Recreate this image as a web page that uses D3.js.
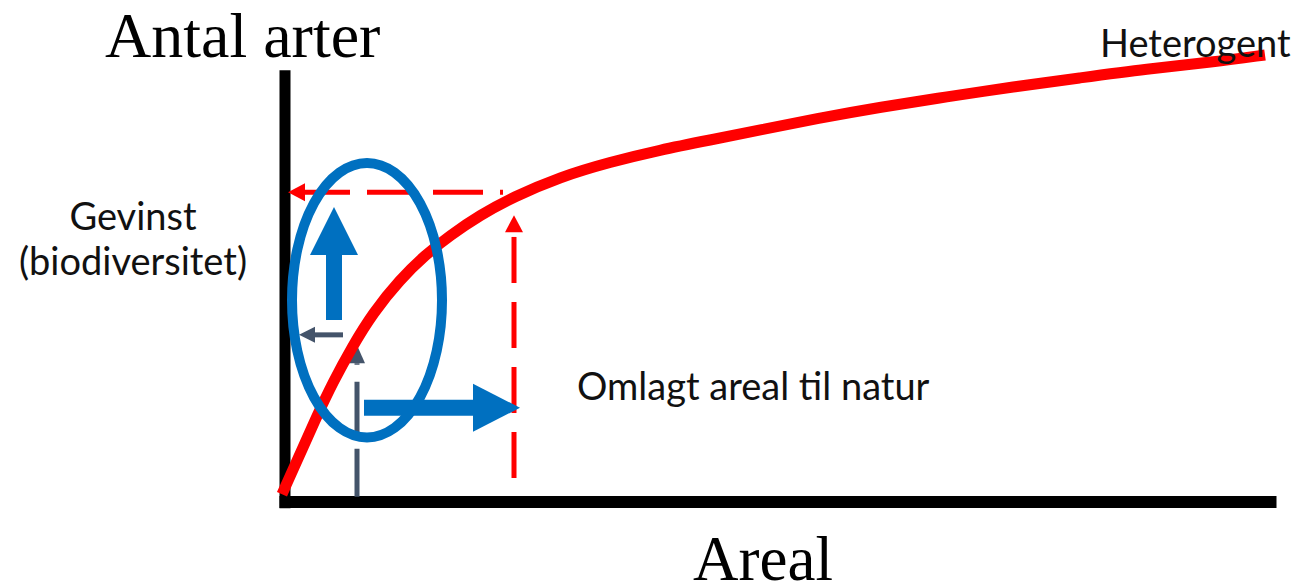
<!DOCTYPE html>
<html>
<head>
<meta charset="utf-8">
<script src="https://cdn.jsdelivr.net/npm/d3@7"></script>
<style>
  html, body { margin: 0; padding: 0; background: #fff; }
  svg { display: block; }
</style>
</head>
<body>
<div id="chart"></div>
<script>
// ---- data (x: Areal 0-100, y: Antal arter 0-100) ----
const curveX = [0.2, 2.4, 3.7, 5.3, 7.2, 9.3, 12.0, 14.5, 17.0, 20.0, 23.3, 28.0, 33.0, 38.0, 43.0, 48.0, 54.0, 60.0, 66.7, 73.3, 80.0, 86.7, 93.3, 98.5];
const curveY = [1.3, 12.2, 18.7, 26.2, 34.0, 41.6, 49.0, 54.4, 58.8, 63.3, 67.3, 71.8, 75.1, 77.8, 80.0, 82.2, 84.9, 87.3, 89.6, 91.8, 93.8, 95.8, 97.3, 98.9];

const convertedArea = 23.4;   // red vertical dashed (omlagt areal)
const gainLevel = 68.4;       // red horizontal dashed (gevinst)
const smallArea = 7.7;        // grey dashed vertical
const smallGain = 36.7;       // grey horizontal arrow level

const titleY = "Antal arter";
const titleX = "Areal";
const curveLabel = "Heterogent";
const gainLabel = ["Gevinst", "(biodiversitet)"];
const areaLabel = "Omlagt areal til natur";

// ---- setup ----
const W = 1297, H = 587;
const svg = d3.select("#chart").append("svg").attr("width", W).attr("height", H);

const x = d3.scaleLinear().domain([0, 100]).range([280, 1280]);
const y = d3.scaleLinear().domain([0, 100]).range([500, 50]);

const red = "#FF0000", blue = "#0070C0", grey = "#44546A";

// ---- axes (thick black lines, no ticks) ----
const xAxisScale = d3.scaleLinear().domain([-0.1, 99.6]).range([x(-0.1), x(99.6)]);
svg.append("g")
  .attr("transform", `translate(0,${y(-0.33)})`)
  .call(d3.axisBottom(xAxisScale).tickValues([]).tickSizeOuter(0))
  .call(g => g.select(".domain").attr("stroke", "#000").attr("stroke-width", 12));

const yAxisScale = d3.scaleLinear().domain([-1.7, 95.6]).range([y(-1.7), y(95.6)]);
svg.append("g")
  .attr("transform", `translate(${x(0.45)},0)`)
  .call(d3.axisLeft(yAxisScale).tickValues([]).tickSizeOuter(0))
  .call(g => g.select(".domain").attr("stroke", "#000").attr("stroke-width", 11));

// helper: arrowhead polygon
function head(tipX, tipY, dir, len, half) {
  if (dir === "left") return [[tipX, tipY], [tipX + len, tipY - half], [tipX + len, tipY + half]];
  if (dir === "right") return [[tipX, tipY], [tipX - len, tipY - half], [tipX - len, tipY + half]];
  return [[tipX, tipY], [tipX - half, tipY + len], [tipX + half, tipY + len]];
}
const poly = pts => "M" + pts.map(p => p.join(",")).join("L") + "Z";

// ---- red dashed horizontal (gain level) ----
const gY = y(gainLevel);
svg.append("line")
  .attr("x1", x(22.3)).attr("x2", x(2.5))
  .attr("y1", gY).attr("y2", gY)
  .attr("stroke", red).attr("stroke-width", 5)
  .attr("stroke-dasharray", "3,17,50,16,50,17,45,50");
svg.append("path").attr("d", poly(head(x(0.8), gY, "left", 17, 9))).attr("fill", red);

// ---- red dashed vertical (converted area) ----
const cX = x(convertedArea);
svg.append("line")
  .attr("x1", cX).attr("x2", cX)
  .attr("y1", y(4.9)).attr("y2", y(59.8))
  .attr("stroke", red).attr("stroke-width", 5)
  .attr("stroke-dasharray", "46,19");
svg.append("path").attr("d", poly(head(cX, y(63.3), "up", 17, 9))).attr("fill", red);

// ---- grey dashed vertical ----
const sX = x(smallArea);
svg.append("line")
  .attr("x1", sX).attr("x2", sX)
  .attr("y1", y(0.7)).attr("y2", y(30.4))
  .attr("stroke", grey).attr("stroke-width", 5)
  .attr("stroke-dasharray", "48,10,57,17");
svg.append("path").attr("d", poly(head(sX, y(34.4), "up", 18, 8))).attr("fill", grey);

// ---- grey horizontal arrow ----
const sY = y(smallGain);
svg.append("line")
  .attr("x1", x(6.3)).attr("x2", x(3.3))
  .attr("y1", sY).attr("y2", sY)
  .attr("stroke", grey).attr("stroke-width", 5);
svg.append("path").attr("d", poly(head(x(1.9), sY, "left", 16, 8))).attr("fill", grey);

// ---- red curve ----
const pts = curveX.map((d, i) => [d, curveY[i]]);
svg.append("path")
  .datum(pts)
  .attr("d", d3.line().x(d => x(d[0])).y(d => y(d[1])).curve(d3.curveBasis))
  .attr("fill", "none").attr("stroke", red).attr("stroke-width", 11);

// ---- blue ellipse ----
svg.append("ellipse")
  .attr("cx", x(8.7)).attr("cy", y(44.4))
  .attr("rx", x(8.7) - x(1.2)).attr("ry", y(13.9) - y(44.4))
  .attr("fill", "none").attr("stroke", blue).attr("stroke-width", 10);

// ---- blue up arrow ----
const uX = x(5.4);
svg.append("line")
  .attr("x1", uX).attr("x2", uX)
  .attr("y1", y(40)).attr("y2", y(54.6))
  .attr("stroke", blue).attr("stroke-width", 16);
svg.append("path").attr("d", poly(head(uX, y(65.1), "up", 48, 24))).attr("fill", blue);

// ---- blue right arrow ----
const rY = y(20.5);
svg.append("line")
  .attr("x1", x(8.4)).attr("x2", x(19.5))
  .attr("y1", rY).attr("y2", rY)
  .attr("stroke", blue).attr("stroke-width", 16);
svg.append("path").attr("d", poly(head(x(24.0), rY, "right", 47, 24))).attr("fill", blue);

// ---- texts ----
svg.append("text").text(titleY)
  .attr("x", 105).attr("y", 57)
  .attr("font-family", "'Liberation Serif', 'Times New Roman', serif")
  .attr("font-size", 64).attr("fill", "#000");

svg.append("text").text(titleX)
  .attr("x", 693).attr("y", 580)
  .attr("font-family", "'Liberation Serif', 'Times New Roman', serif")
  .attr("font-size", 63).attr("fill", "#000");

const sans = "Lato, 'Open Sans', sans-serif";
svg.append("text").text(curveLabel)
  .attr("x", 1100).attr("y", 57)
  .attr("font-family", sans)
  .attr("font-size", 38).attr("fill", "#111");

svg.append("text").text(areaLabel)
  .attr("x", 577).attr("y", 400)
  .attr("font-family", sans)
  .attr("font-size", 38).attr("fill", "#111");

gainLabel.forEach((t, i) => {
  svg.append("text").text(t)
    .attr("x", 133).attr("y", 230 + i * 45)
    .attr("text-anchor", "middle")
    .attr("font-family", sans)
    .attr("font-size", 38).attr("fill", "#111");
});
</script>
</body>
</html>
